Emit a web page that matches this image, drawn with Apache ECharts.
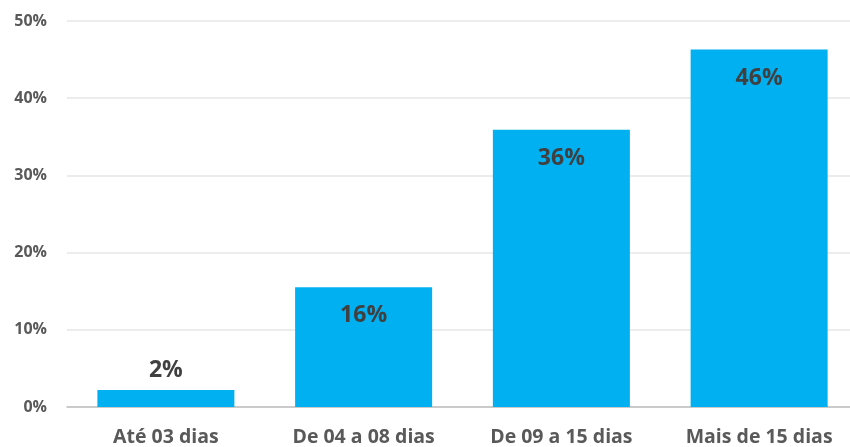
<!DOCTYPE html>
<html>
<head>
    <meta charset="utf-8">
    <title>Prazo</title>
    <script src="https://cdn.jsdelivr.net/npm/echarts@6/dist/echarts.min.js" type="text/javascript"></script>
    <style>
        body { margin:0; background:#fff; overflow:hidden; }
        #chart { width:858px; height:447px; }
    </style>
</head>
<body>
<div id="chart"></div>
<script type="text/javascript">
// faixas de prazo e percentuais
var categorias = ["Até 03 dias", "De 04 a 08 dias", "De 09 a 15 dias", "Mais de 15 dias"];
var valores = [2.2, 15.5, 35.9, 46.3];
var rotulos = ["2%", "16%", "36%", "46%"];
var ticksY = [0, 10, 20, 30, 40, 50];

var myChart = echarts.init(document.getElementById("chart"));

var dados = [];
for (var i = 0; i < valores.length; i++) {
    var pos = valores[i] < 5 ? "top" : "insideTop";
    dados.push({
        value: valores[i],
        label: { position: pos, distance: pos == "top" ? 8 : 17, formatter: rotulos[i] }
    });
}

var option = {
    animation: false,
    grid: { left: 67, right: 0, top: 21, bottom: 38 },
    xAxis: {
        type: "category",
        data: categorias,
        axisTick: { show: false },
        axisLine: { lineStyle: { color: "#bfbfbf", width: 1.5 } },
        axisLabel: {
            margin: 20,
            color: "#595959",
            fontSize: 19.5,
            fontWeight: "bold",
            fontFamily: "Open Sans"
        }
    },
    yAxis: {
        type: "value",
        min: ticksY[0],
        max: ticksY[ticksY.length - 1],
        interval: 10,
        axisLine: { show: false },
        axisTick: { show: false },
        splitLine: { lineStyle: { color: "#e6e6e6", width: 1.5 } },
        axisLabel: {
            margin: 20,
            color: "#595959",
            fontSize: 16,
            fontWeight: "bold",
            fontFamily: "Open Sans",
            formatter: "{value}%"
        }
    },
    series: [{
        type: "bar",
        data: dados,
        barWidth: 137,
        itemStyle: { color: "#00b0f0" },
        label: {
            show: true,
            color: "#404040",
            fontSize: 23,
            fontWeight: "bold",
            fontFamily: "Open Sans"
        }
    }]
};
myChart.setOption(option);
</script>
</body>
</html>
